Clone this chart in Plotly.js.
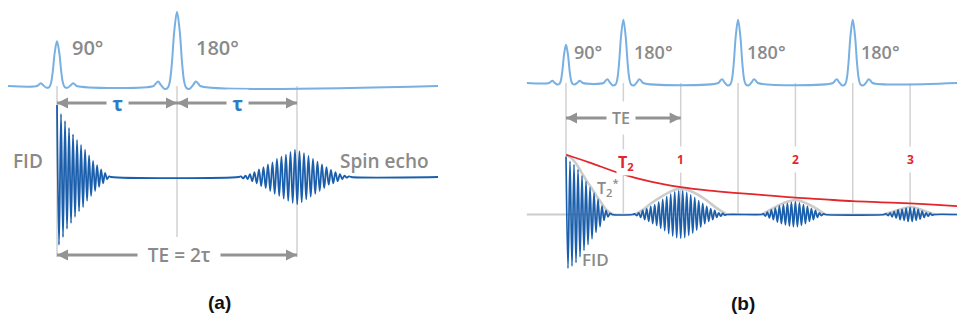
<!DOCTYPE html>
<html><head><meta charset="utf-8">
<script src="https://cdn.plot.ly/plotly-3.0.1.min.js"></script>
<style>html,body{margin:0;padding:0;background:#fff}#chart{width:957px;height:320px}</style>
</head><body><div id="chart"></div>
<script>
// ================= DATA =================
// Pulse shape (normalised RF pulse: main lobe + side lobes), offsets in ms
const pulseShapeDt  = [-1.5,-1.375,-1.21,-1.04,-0.79,-0.58,-0.46,-0.33,-0.17,0,0.17,0.33,0.46,0.58,0.79,1.04,1.21,1.375,1.5];
const pulseShapeVal = [0,0.03,0.06,0.015,-0.04,-0.02,0.06,0.3,0.75,1,0.75,0.3,0.06,-0.02,-0.04,0.015,0.06,0.03,0];

// ---- Panel (a): spin echo, tau = 10 ms ----
const pulseTimesA  = [0, 10];
const pulseLabelsA = ['90°', '180°'];
const pulseAmpA    = [0.64, 1.06];
const pulseWidthA  = [1.1, 1.3];
const fidAmpA  = [1.03,0.97,0.9,0.86,0.8,0.74,0.7,0.66,0.61,0.57,0.53,0.49,0.46,0.43,0.39,0.34,0.31,0.27,0.23,0.2,0.17,0.14,0.11,0.09,0.06,0.03,0.01];
const echoTimeA = 20;
const echoAmpA = [0.01,0.02,0.02,0.03,0.04,0.06,0.07,0.09,0.11,0.13,0.14,0.16,0.18,0.20,0.21,0.24,0.26,0.27,0.29,0.31,0.32,0.34,0.36,0.37,0.39,0.39,0.37,0.36,0.34,0.32,0.30,0.28,0.26,0.24,0.22,0.20,0.18,0.16,0.14,0.11,0.10,0.09,0.07,0.06,0.04,0.03,0.02,0.01,0.01];

// ---- Panel (b): CPMG multi-echo, TE = 10 ms ----
const pulseTimesB  = [0, 5, 15, 25];
const pulseLabelsB = ['90°', '180°', '180°', '180°'];
const pulseAmpB    = [0.66, 1.09, 1.09, 1.09];
const pulseWidthB  = [0.98, 1.15, 1.15, 1.15];
const echoTimesB   = [10, 20, 30];
const echoLabelsB  = ['1', '2', '3'];
const fidAmpB   = [1.0,0.93,0.92,0.89,0.86,0.83,0.78,0.73,0.67,0.62,0.57,0.52,0.47,0.42,0.37,0.31,0.26,0.21,0.15,0.1,0.07,0.04,0.02];
const echo1AmpB = [0.01,0.02,0.03,0.05,0.07,0.09,0.10,0.12,0.14,0.16,0.17,0.19,0.22,0.24,0.26,0.28,0.31,0.33,0.35,0.37,0.39,0.40,0.41,0.41,0.41,0.40,0.38,0.36,0.34,0.32,0.29,0.27,0.24,0.22,0.19,0.16,0.14,0.12,0.10,0.09,0.07,0.05,0.03,0.03,0.02,0.01];
const echo2AmpB = [0.01,0.03,0.04,0.06,0.08,0.09,0.11,0.13,0.15,0.16,0.17,0.18,0.19,0.2,0.21,0.21,0.22,0.21,0.2,0.19,0.17,0.16,0.14,0.12,0.10,0.09,0.07,0.05,0.03,0.02,0.01];
const echo3AmpB = [0.01,0.02,0.03,0.04,0.05,0.06,0.08,0.09,0.09,0.10,0.11,0.12,0.12,0.12,0.11,0.10,0.09,0.08,0.06,0.05,0.03,0.03,0.02,0.01];
// T2 decay curve (red)
const t2TimeB = [0,2,4.7,7.3,10,12.5,15,17.5,20,22.5,25,27.5,30,32,34.1];
const t2ValB  = [1.03,0.9,0.71,0.57,0.47,0.41,0.37,0.33,0.29,0.26,0.23,0.21,0.19,0.17,0.145];
// T2* envelope of the FID (grey)
const t2sTimeB = [0,0.44,0.87,1.31,1.74,2.18,2.62,3.05,3.49,3.92,4.18];
const t2sValB  = [1.03,0.98,0.88,0.74,0.6,0.47,0.33,0.21,0.09,0.02,0];
// echo envelopes (grey), time offsets from echo centre
const env1Dt = [-4.0,-3.3,-2.6,-1.5,-0.6,0,0.9,2.0,3.2,4.0];
const env1V  = [0,0.08,0.19,0.33,0.42,0.45,0.40,0.28,0.10,0];
const env2Dt = [-2.9,-2.0,-1.0,0,1.0,2.0,2.6];
const env2V  = [0,0.1,0.2,0.25,0.19,0.08,0];
const env3Dt = [-2.35,-1.31,-0.44,0,0.7,1.57,2.18];
const env3V  = [0,0.06,0.11,0.13,0.1,0.04,0];

// ================= STYLE / LAYOUT CONSTANTS =================
const C = {
  pulse:'#78b0e2', sig:'#1b5fac', env:'#cccccc', vline:'#d2d2d2', red:'#e3262c',
  text:'#8a8a8a', arrow:'#939393', tau:'#2d7cc6'
};
const A = {xr:[-4.75,35.125], yr:[-2.043,2.529], pulseBase:1.3, tStart:-4.08, tEnd:31.75,
           fidHalf:0.167, echoHalf:0.1875, echoStart:-4.67};
const B = {xr:[-7.629,34.089], yr:[-1.819,3.698], pulseBase:2.267, tStart:-3.41, tEnd:34.1,
           half:0.1744, fidHalf:0.1744, echoStart:[-4.01,-2.79,-2.09]};
const NB = '\u00a0';
const FONT = 'Open Sans, DejaVu Sans, sans-serif';

// ================= BUILDERS =================
function pulseTrain(times, amps, widths, base, t0, t1) {
  const x=[t0], y=[base];
  times.forEach((tp,i)=>{
    pulseShapeDt.forEach((d,j)=>{ x.push(tp + d*widths[i]); y.push(base + amps[i]*pulseShapeVal[j]); });
  });
  x.push(t1); y.push(base);
  return {x,y};
}
function signal(packets, tEnd) {
  const x=[], y=[];
  packets.forEach((p,k)=>{
    if (k>0) { x.push(p.t0 - p.half); y.push(0); }
    p.amps.forEach((a,i)=>{ x.push(p.t0 + i*p.half); y.push(i%2===0 ? a : -a); });
    x.push(p.t0 + p.amps.length*p.half); y.push(0);
  });
  x.push(tEnd); y.push(0);
  return {x,y};
}
function line(x, y, color, width, xa, ya, shape) {
  return {type:'scatter', mode:'lines', x, y, xaxis:xa, yaxis:ya, hoverinfo:'skip',
          line:{color, width, shape:shape||'spline', smoothing:1}};
}
function arrowTrace(xa, ya, t0, t1, v) {
  return {type:'scatter', mode:'lines+markers', x:[t0,t1], y:[v,v], xaxis:xa, yaxis:ya, hoverinfo:'skip',
          line:{color:C.arrow, width:3},
          marker:{symbol:['arrow-left','arrow-right'], size:11, color:C.arrow, line:{width:0}}};
}

const traces = [];
// Panel (a)
const pa = pulseTrain(pulseTimesA, pulseAmpA, pulseWidthA, A.pulseBase, A.tStart, A.tEnd);
traces.push(line(pa.x, pa.y, C.pulse, 2, 'x', 'y'));
const sa = signal([
  {t0:0, half:A.fidHalf, amps:fidAmpA},
  {t0:echoTimeA + A.echoStart, half:A.echoHalf, amps:echoAmpA}
], A.tEnd);
traces.push(line(sa.x, sa.y, C.sig, 1.8, 'x', 'y'));
traces.push(arrowTrace('x','y', pulseTimesA[0], pulseTimesA[1], 1.057));
traces.push(arrowTrace('x','y', pulseTimesA[1], echoTimeA, 1.057));
traces.push(arrowTrace('x','y', pulseTimesA[0], echoTimeA, -1.114));

// Panel (b)
const pb = pulseTrain(pulseTimesB, pulseAmpB, pulseWidthB, B.pulseBase, B.tStart, B.tEnd);
traces.push(line(pb.x, pb.y, C.pulse, 2, 'x2', 'y2'));
traces.push(line([B.tStart, B.tEnd], [0,0], C.env, 2, 'x2', 'y2', 'linear'));
traces.push(line(t2sTimeB, t2sValB, C.env, 2.6, 'x2', 'y2'));
[[env1Dt,env1V],[env2Dt,env2V],[env3Dt,env3V]].forEach((e,i)=>{
  traces.push(line(e[0].map(d=>d+echoTimesB[i]), e[1], C.env, 2.6, 'x2', 'y2'));
});
const sb = signal([
  {t0:0, half:B.fidHalf, amps:fidAmpB},
  {t0:echoTimesB[0] + B.echoStart[0], half:B.half, amps:echo1AmpB},
  {t0:echoTimesB[1] + B.echoStart[1], half:B.half, amps:echo2AmpB},
  {t0:echoTimesB[2] + B.echoStart[2], half:B.half, amps:echo3AmpB}
], B.tEnd);
traces.push(line(sb.x, sb.y, C.sig, 1.7, 'x2', 'y2'));
traces.push(line(t2TimeB, t2ValB, C.red, 1.8, 'x2', 'y2'));
traces.push(arrowTrace('x2','y2', pulseTimesB[0], echoTimesB[0], 1.664));

// ================= SHAPES (guide lines) =================
const shapes = [];
function vline(xref, yref, t, y0, y1) {
  shapes.push({type:'line', xref, yref, x0:t, x1:t, y0, y1, layer:'below', line:{color:C.vline, width:1.5}});
}
vline('x','y', pulseTimesA[0], A.pulseBase, -1.143);
vline('x','y', pulseTimesA[1], A.pulseBase, -0.857);
vline('x','y', echoTimeA, A.pulseBase, -1.143);
vline('x2','y2', pulseTimesB[0], B.pulseBase, 1.03);
pulseTimesB.slice(1).concat(echoTimesB).forEach(t=>vline('x2','y2', t, B.pulseBase, 0.02));

// ================= ANNOTATIONS (text) =================
const ann = [];
function label(xref, yref, x, y, text, size, color, extra) {
  ann.push(Object.assign({xref, yref, x, y, text, showarrow:false, xanchor:'center', yanchor:'middle',
            font:{family:FONT, size, color, weight:600}}, extra||{}));
}
// panel (a)
label('x','y', 2.58, 1.85, pulseLabelsA[0], 20, C.text);
label('x','y', 13.4, 1.85, pulseLabelsA[1], 20, C.text);
label('x','y', -2.4, 0.229, 'FID', 19, C.text);
label('x','y', 27.25, 0.229, 'Spin echo', 19, C.text);
label('x','y', 5.08, 1.057, NB+'τ'+NB, 20, C.tau, {bgcolor:'#fff', borderpad:0, font:{family:FONT, size:20, color:C.tau, weight:700}});
label('x','y', 15.0, 1.057, NB+'τ'+NB, 20, C.tau, {bgcolor:'#fff', borderpad:0, font:{family:FONT, size:20, color:C.tau, weight:700}});
label('x','y', 10.2, -1.114, NB+NB+'TE = 2τ'+NB+NB, 19, C.text, {bgcolor:'#fff', borderpad:0});
label('x','y', 13.58, -1.8, '<b>(a)</b>', 19, '#111', {font:{family:'Liberation Sans, Arial, sans-serif', size:19, color:'#111'}});
// panel (b)
const pulseLabelXB = [1.96, 7.63, 17.52, 27.42];
pulseLabelsB.forEach((s,i)=>label('x2','y2', pulseLabelXB[i], 2.81, s, 18, C.text));
label('x2','y2', 4.8, 1.664, 'TE', 16, C.text, {bgcolor:'#fff', borderpad:5});
label('x2','y2', 5.19, 0.9, 'T<sub>2</sub>', 16, C.red, {bgcolor:'#fff', borderpad:1, font:{family:FONT, size:16, color:C.red, weight:700}});
label('x2','y2', 3.66, 0.474, 'T<sub>2</sub><sup>*</sup>', 16, C.text);
label('x2','y2', 2.57, -0.784, 'FID', 17, C.text);
echoLabelsB.forEach((s,i)=>label('x2','y2', echoTimesB[i], 0.94, s, 12, C.red, {bgcolor:'#fff', borderpad:4, font:{family:FONT, size:12, color:C.red, weight:700}}));
label('x2','y2', 15.43, -1.526, '<b>(b)</b>', 19, '#111', {font:{family:'Liberation Sans, Arial, sans-serif', size:19, color:'#111'}});

const ax = {visible:false, fixedrange:true, showgrid:false, zeroline:false};
const layout = {
  width:957, height:320, margin:{l:0,r:0,t:0,b:0}, paper_bgcolor:'#fff', plot_bgcolor:'#fff', showlegend:false,
  xaxis:Object.assign({domain:[0,0.5], range:A.xr, anchor:'y'}, ax),
  yaxis:Object.assign({domain:[0,1], range:A.yr, anchor:'x'}, ax),
  xaxis2:Object.assign({domain:[0.5,1], range:B.xr, anchor:'y2'}, ax),
  yaxis2:Object.assign({domain:[0,1], range:B.yr, anchor:'x2'}, ax),
  shapes, annotations:ann
};
Plotly.newPlot('chart', traces, layout, {staticPlot:true, displayModeBar:false});
</script></body></html>
